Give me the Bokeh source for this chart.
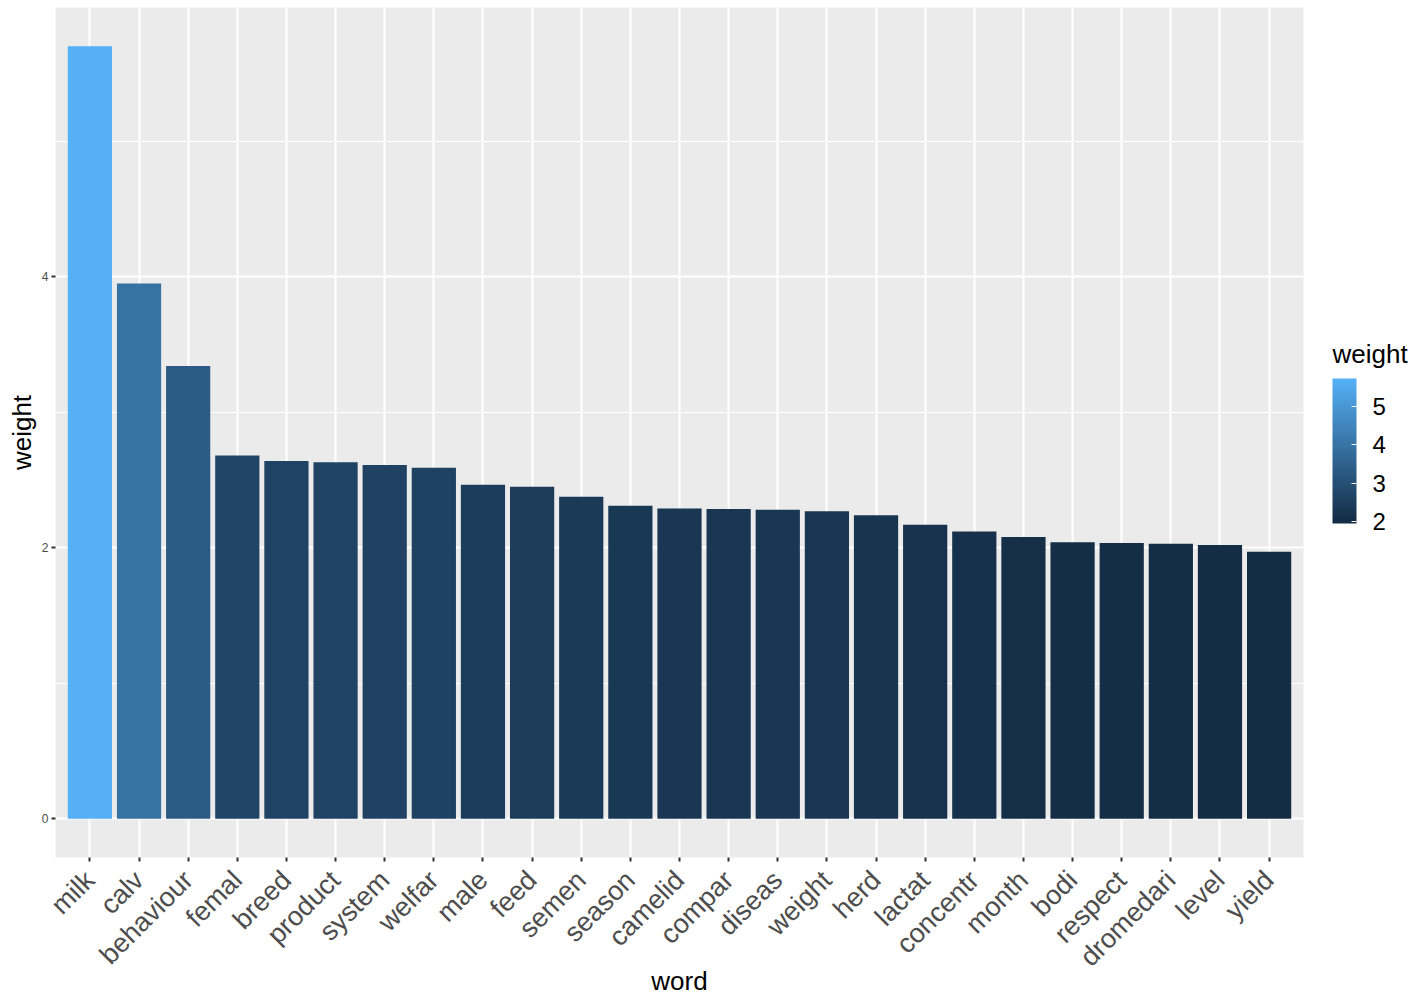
import numpy as np
from bokeh.plotting import figure
from bokeh.models import (FactorRange, Range1d, ColumnDataSource, LinearColorMapper,
                          ColorBar, SingleIntervalTicker, FixedTicker)
from bokeh.transform import transform
from bokeh.embed import file_html
from bokeh.resources import INLINE

words = ["milk", "calv", "behaviour", "femal", "breed", "product", "system", "welfar",
         "male", "feed", "semen", "season", "camelid", "compar", "diseas", "weight",
         "herd", "lactat", "concentr", "month", "bodi", "respect", "dromedari", "level", "yield"]
weights = [5.70, 3.95, 3.34, 2.68, 2.64, 2.63, 2.61, 2.59,
           2.465, 2.45, 2.376, 2.31, 2.29, 2.285, 2.28, 2.27,
           2.24, 2.17, 2.12, 2.08, 2.04, 2.035, 2.03, 2.02, 1.97]
y_ticks = [0, 2, 4]
legend_ticks = [2, 3, 4, 5]
x_title = "word"
y_title = "weight"
legend_title = "weight"

FONT = "Liberation Sans"

# ggplot-like gradient #132B43 -> #56B1F7
def lerp_palette(c1, c2, n=256):
    a = np.array([int(c1[i:i + 2], 16) for i in (1, 3, 5)], float)
    b = np.array([int(c2[i:i + 2], 16) for i in (1, 3, 5)], float)
    out = []
    for t in np.linspace(0, 1, n):
        c = a + (b - a) * t
        out.append("#%02x%02x%02x" % tuple(int(round(v)) for v in c))
    return out

palette = lerp_palette("#132B43", "#56B1F7")
mapper = LinearColorMapper(palette=palette, low=min(weights) - 0.02, high=max(weights) + 0.03)

src = ColumnDataSource(dict(word=words, weight=weights))

W, H = 1410, 1001
BL, BR, BT, BB = 55, 107, 7, 144
FW, FH = W - BL - BR, H - BT - BB
ymax = max(weights)
pad = 0.05 * ymax
p = figure(width=W, height=H, output_backend="svg", toolbar_location=None,
           x_range=FactorRange(factors=words, range_padding=0.2, range_padding_units="absolute"),
           y_range=Range1d(-pad, ymax + pad),
           min_border_left=BL, min_border_right=BR, min_border_top=BT, min_border_bottom=BB,
           x_axis_label=x_title, y_axis_label=y_title)

p.vbar(x="word", top="weight", bottom=0, width=0.9, source=src,
       fill_color=transform("weight", mapper), line_color=None)

p.background_fill_color = "#EBEBEB"
p.border_fill_color = "white"
p.outline_line_color = None

# grids
p.xgrid.grid_line_color = "white"
p.xgrid.grid_line_width = 2
p.ygrid.grid_line_color = "white"
p.ygrid.grid_line_width = 2
p.ygrid.minor_grid_line_color = "white"
p.ygrid.minor_grid_line_width = 1
p.yaxis.ticker = SingleIntervalTicker(interval=2, num_minor_ticks=2)
p.ygrid.ticker = p.yaxis.ticker

for ax in (p.xaxis[0], p.yaxis[0]):
    ax.axis_line_color = None
    ax.major_tick_line_color = "#333333"
    ax.major_tick_line_width = 2
    ax.major_tick_out = 4
    ax.major_tick_in = 0
    ax.minor_tick_line_color = None
    ax.major_label_text_color = "#4D4D4D"
    ax.major_label_text_font = FONT
    ax.axis_label_text_font = FONT
    ax.axis_label_text_font_style = "normal"
    ax.axis_label_text_color = "black"
    ax.axis_label_text_font_size = "26px"

p.yaxis.major_label_text_font_size = "12px"
p.yaxis.major_label_standoff = 3
p.yaxis.axis_label_standoff = 2
p.xaxis.major_label_text_font_size = "27px"
p.xaxis.major_label_orientation = np.pi / 4
p.xaxis.major_label_standoff = 14
p.xaxis.axis_label_standoff = -20

# gradient legend bar
cb = ColorBar(color_mapper=mapper, ticker=FixedTicker(ticks=legend_ticks),
              width=24, height=145, title=None,
              major_label_text_font=FONT, major_label_text_font_size="24px",
              major_label_text_color="black",
              major_tick_line_color="white", major_tick_in=5, major_tick_out=0,
              bar_line_color=None, background_fill_color=None, border_line_color=None,
              location=(FW + 29, (H - BB) - 523), padding=0, margin=0, label_standoff=16)
p.add_layout(cb, "center")

# legend title (horizontal), carried by a transparent horizontal colour bar
cb_title = ColorBar(color_mapper=mapper, ticker=FixedTicker(ticks=[]), orientation="horizontal",
                    width=24, height=1, title=legend_title, scale_alpha=0,
                    title_text_font=FONT, title_text_font_size="26px", title_text_font_style="normal",
                    title_text_color="black", title_standoff=0,
                    major_label_text_alpha=0, major_tick_line_color=None,
                    bar_line_color=None, background_fill_color=None, border_line_color=None,
                    location=(FW + 29, (H - BB) - 369), padding=0, margin=0)
p.add_layout(cb_title, "center")

open("out.html", "w").write(file_html(p, INLINE))
